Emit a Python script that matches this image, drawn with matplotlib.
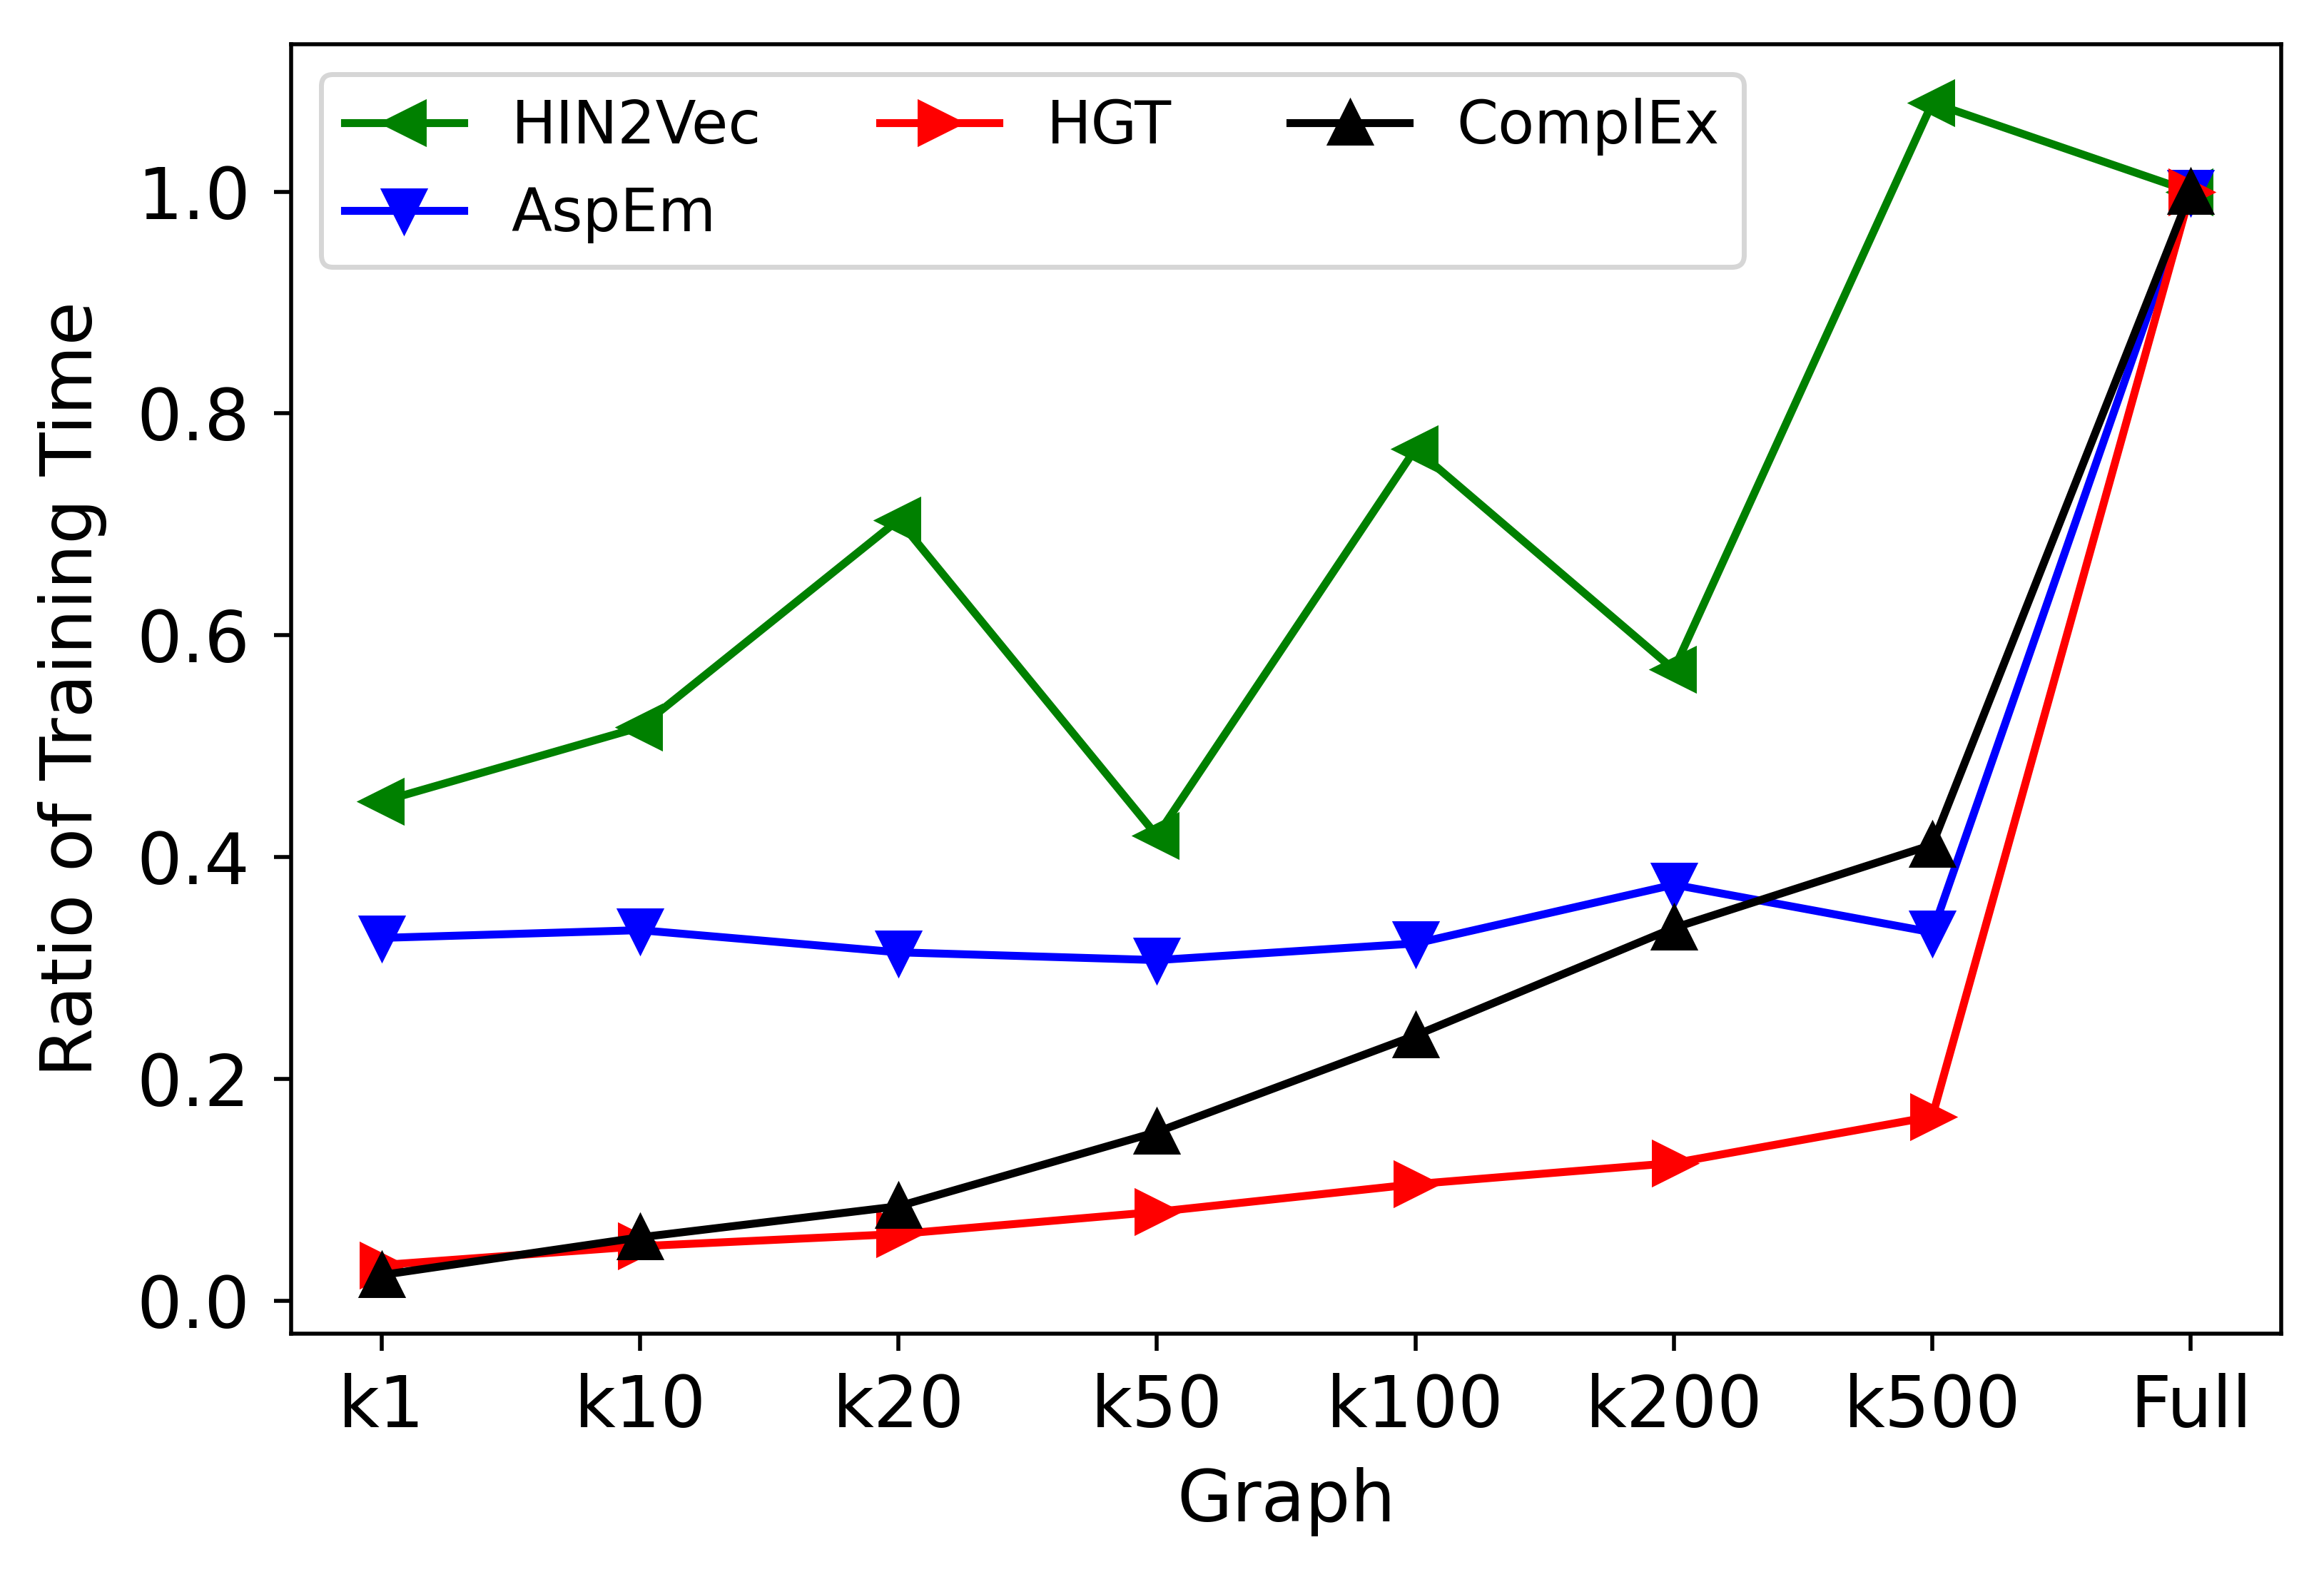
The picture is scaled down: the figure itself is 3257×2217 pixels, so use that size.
import matplotlib
matplotlib.use("Agg")
import matplotlib.pyplot as plt

graphs = ["k1", "k10", "k20", "k50", "k100", "k200", "k500", "Full"]
hin2vec = [0.450, 0.517, 0.704, 0.419, 0.768, 0.569, 1.080, 1.000]
aspem = [0.327, 0.334, 0.314, 0.307, 0.322, 0.375, 0.332, 1.000]
hgt = [0.032, 0.049, 0.060, 0.080, 0.105, 0.124, 0.166, 1.000]
complex_ = [0.023, 0.057, 0.085, 0.152, 0.239, 0.336, 0.411, 1.000]

plt.rcParams.update({"font.size": 14.4})
fig = plt.figure(figsize=(3257 / 500, 2217 / 500), dpi=500)
ax = fig.add_axes([0.1253, 0.157, 0.8563, 0.815])

ax.plot(graphs, hin2vec, color="green", marker="<", ms=8, lw=1.6, label="HIN2Vec")
ax.plot(graphs, aspem, color="blue", marker="v", ms=8, lw=1.6, label="AspEm")
ax.plot(graphs, hgt, color="red", marker=">", ms=8, lw=1.6, label="HGT")
ax.plot(graphs, complex_, color="black", marker="^", ms=8, lw=1.6, label="ComplEx")

ax.tick_params(axis="x", pad=4.5)
ax.tick_params(axis="y", pad=4.8)
ax.set_xlabel("Graph", labelpad=5)
ax.set_ylabel("Ratio of Training Time", labelpad=6)
ax.legend(ncol=3, loc="upper left", fontsize=12)

fig.savefig("out.png", dpi=500)
